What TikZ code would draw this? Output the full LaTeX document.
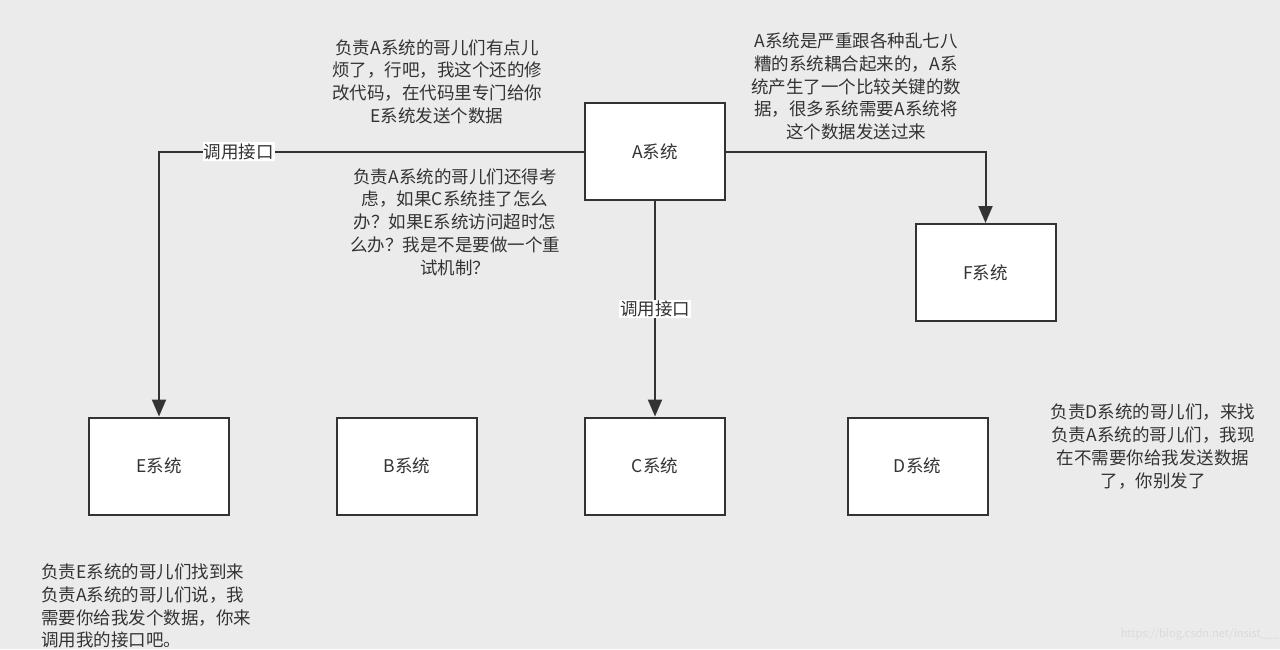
\documentclass[tikz,border=0pt]{standalone}
\usepackage{fontspec}
\newfontfamily\cjk{Noto Sans CJK SC}
\usetikzlibrary{arrows.meta}
\definecolor{bg}{HTML}{EBEBEB}
\definecolor{ink}{HTML}{333333}
\definecolor{wm}{HTML}{DADADA}
\tikzset{
  sysbox/.style={draw=ink, line width=2pt, fill=white, minimum width=140pt, minimum height=97pt, inner sep=0pt, font=\cjk\fontsize{17.5}{22.7}\selectfont, text=ink},
  note/.style={align=center, inner sep=0pt, font=\cjk\fontsize{17.5}{22.7}\selectfont, text=ink},
  conn/.style={draw=ink, line width=2pt, -{Triangle[length=17pt,width=14pt]}},
  lbl/.style={fill=white, inner sep=1pt, font=\cjk\fontsize{17.5}{20}\selectfont, text=ink}
}
\begin{document}
\begin{tikzpicture}[x=1pt,y=-1pt]
\fill[bg] (0,0) rectangle (1280,649);
\useasboundingbox (0,0) rectangle (1280,649);
% boxes
\node[sysbox] (A) at (655,151.5) {A系统};
\node[sysbox] (F) at (985.5,272.5) {F系统};
\node[sysbox] (E) at (159,466) {E系统};
\node[sysbox] (B) at (407,466) {B系统};
\node[sysbox] (C) at (655,466) {C系统};
\node[sysbox] (D) at (917.5,466) {D系统};
% connectors
\draw[conn] (A.west) -| (E.north) node[pos=0.406, lbl] {调用接口};
\draw[conn] (A.east) -| (F.north);
\draw[conn] (A.south) -- (C.north) node[pos=0.5, lbl] {调用接口};
% notes
\node[note] (n1) at (437,81.5) {负责A系统的哥儿们有点儿\\烦了，行吧，我这个还的修\\改代码，在代码里专门给你\\E系统发送个数据};
\node[note] (n2) at (856,86.5) {A系统是严重跟各种乱七八\\糟的系统耦合起来的，A系\\统产生了一个比较关键的数\\据，很多系统需要A系统将\\这个数据发送过来};
\node[note] (n3) at (455,222) {负责A系统的哥儿们还得考\\虑，如果C系统挂了怎么\\办？如果E系统访问超时怎\\么办？我是不是要做一个重\\试机制？};
\node[note] (n4) at (1153,446.5) {负责D系统的哥儿们，来找\\负责A系统的哥儿们，我现\\在不需要你给我发送数据\\了，你别发了};
\node[note, align=left, anchor=west] (n5) at (41,606) {负责E系统的哥儿们找到来\\负责A系统的哥儿们说，我\\需要你给我发个数据，你来\\调用我的接口吧。};
\node[inner sep=0pt, text=wm, font=\cjk\fontsize{11}{12}\selectfont] (wmk) at (1200,634) {https://blog.csdn.net/insist\_\_\_};
\end{tikzpicture}
\end{document}
